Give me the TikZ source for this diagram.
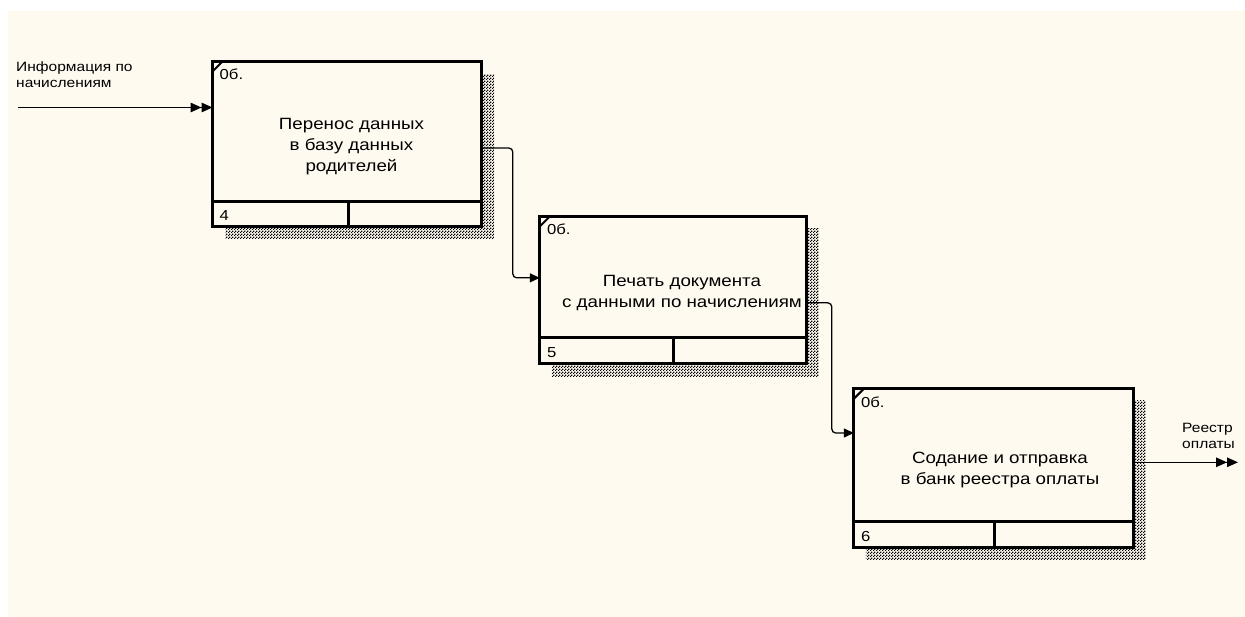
\documentclass[tikz,border=0pt]{standalone}
\usepackage{graphicx}
\usepackage{fontspec}
\setmainfont{Liberation Sans}
\usetikzlibrary{arrows.meta,patterns,calc,backgrounds}
\definecolor{paper}{RGB}{255,250,240}

% slightly widened glyphs, as in the BPwin screen font
\newcommand{\hstretch}[1]{\scalebox{1.15}[1]{#1}}

% fine checkerboard used for the drop shadows
\pgfdeclarepatternformonly{checker}{\pgfqpoint{0pt}{0pt}}{\pgfqpoint{3pt}{3pt}}{\pgfqpoint{3pt}{3pt}}{%
  \pgfpathrectangle{\pgfqpoint{0pt}{0pt}}{\pgfqpoint{1.5pt}{1.5pt}}%
  \pgfpathrectangle{\pgfqpoint{1.5pt}{1.5pt}}{\pgfqpoint{1.5pt}{1.5pt}}%
  \pgfusepath{fill}}

\tikzset{
  actbox/.style={draw, line width=3pt, fill=paper, rectangle, inner sep=0pt, outer sep=0pt},
  cellline/.style={line width=3pt},
  cornertick/.style={line width=2pt},
  flow/.style={draw, line width=1.3pt},
  boxtext/.style={align=center, inner sep=0pt, font=\fontsize{16.3}{21}\selectfont},
  arrowlabel/.style={align=left, inner sep=0pt, font=\fontsize{13.5}{16}\selectfont},
  smalltext/.style={inner sep=0pt, anchor=base west, font=\fontsize{14.5}{16}\selectfont},
  shadowfill/.style={pattern=checker, pattern color=black},
  onetip/.style={-{Triangle[length=10pt,width=9pt]}},
  twotips/.style={-{Triangle[length=11pt,width=9.5pt]Triangle[length=11pt,width=9.5pt]}}
}

\begin{document}
\begin{tikzpicture}[x=1pt,y=-1pt]
\useasboundingbox (0,0) rectangle (1245,617);

% activity boxes
\node[actbox, minimum width=268.5pt, minimum height=165pt] (a1) at (346.75,144) {};
\node[actbox, minimum width=267pt, minimum height=146.7pt] (a2) at (673.3,289.85) {};
\node[actbox, minimum width=280pt, minimum height=159pt] (a3) at (993.8,468.3) {};

\begin{scope}[on background layer]
  \fill[white] (0,0) rectangle (1245,617);
  \fill[paper] (8,11) rectangle (1245,617);
  \fill[shadowfill] ($(a1.north west)+(13,13)$) rectangle ($(a1.south east)+(13,12)$);
  \fill[shadowfill] ($(a2.north west)+(12,12)$) rectangle ($(a2.south east)+(12,13)$);
  \fill[shadowfill] ($(a3.north west)+(12,12)$) rectangle ($(a3.south east)+(12,12)$);
\end{scope}

% bottom cells of each box
\draw[cellline] ($(a1.south west)+(0,-25)$) -- ($(a1.south east)+(0,-25)$);
\draw[cellline] ($(a1.south)+(1.25,0)$) -- ($(a1.south)+(1.25,-25)$);
\draw[cellline] ($(a2.south west)+(0,-25.7)$) -- ($(a2.south east)+(0,-25.7)$);
\draw[cellline] ($(a2.south)+(0.5,0)$) -- ($(a2.south)+(0.5,-25.7)$);
\draw[cellline] ($(a3.south west)+(0,-26.6)$) -- ($(a3.south east)+(0,-26.6)$);
\draw[cellline] ($(a3.south)+(0.7,0)$) -- ($(a3.south)+(0.7,-26.6)$);

% corner ticks
\draw[cornertick] ($(a1.north west)+(0,10)$) -- ($(a1.north west)+(10,0)$);
\draw[cornertick] ($(a2.north west)+(0,10)$) -- ($(a2.north west)+(10,0)$);
\draw[cornertick] ($(a3.north west)+(0,10)$) -- ($(a3.north west)+(10,0)$);

% cost and number fields
\node[smalltext] (c1) at ($(a1.north west)+(7,18.5)$) {\hstretch{0б.}};
\node[smalltext] (c2) at ($(a2.north west)+(7,18.5)$) {\hstretch{0б.}};
\node[smalltext] (c3) at ($(a3.north west)+(7,18.5)$) {\hstretch{0б.}};
\node[smalltext] (n1) at ($(a1.south west)+(7,-6)$) {\hstretch{4}};
\node[smalltext] (n2) at ($(a2.south west)+(7,-6)$) {\hstretch{5}};
\node[smalltext] (n3) at ($(a3.south west)+(7,-6)$) {\hstretch{6}};

% activity names
\node[boxtext] (t1) at (351.5,147) {\hstretch{Перенос данных}\\\hstretch{в базу данных}\\\hstretch{родителей}};
\node[boxtext] (t2) at (682,292.7) {\hstretch{Печать документа}\\\hstretch{с данными по начислениям}};
\node[boxtext] (t3) at (1000,470.2) {\hstretch{Содание и отправка}\\\hstretch{в банк реестра оплаты}};

% boundary arrows
\coordinate (inStart) at (18,107.5);
\coordinate (outEnd) at (1238,462.3);
\draw[flow, twotips] (inStart) -- (inStart -| a1.west);
\draw[flow, twotips] (outEnd -| a3.east) -- (outEnd);
\node[arrowlabel, anchor=west] (inLabel) at (16,74.5) {\hstretch{Информация по}\\\hstretch{начислениям}};
\node[arrowlabel, anchor=west] (outLabel) at (1182,435.5) {\hstretch{Реестр}\\\hstretch{оплаты}};

% links between activities
\draw[flow, onetip, rounded corners=4pt] ([yshift=-4pt]a1.east) -| ($(a2.west)+(-27,-12)$) -- ($(a2.west)+(0,-12)$);
\draw[flow, onetip, rounded corners=4pt] ([yshift=-13pt]a2.east) -| ($(a3.west)+(-22,-35.3)$) -- ($(a3.west)+(0,-35.3)$);
\end{tikzpicture}
\end{document}
